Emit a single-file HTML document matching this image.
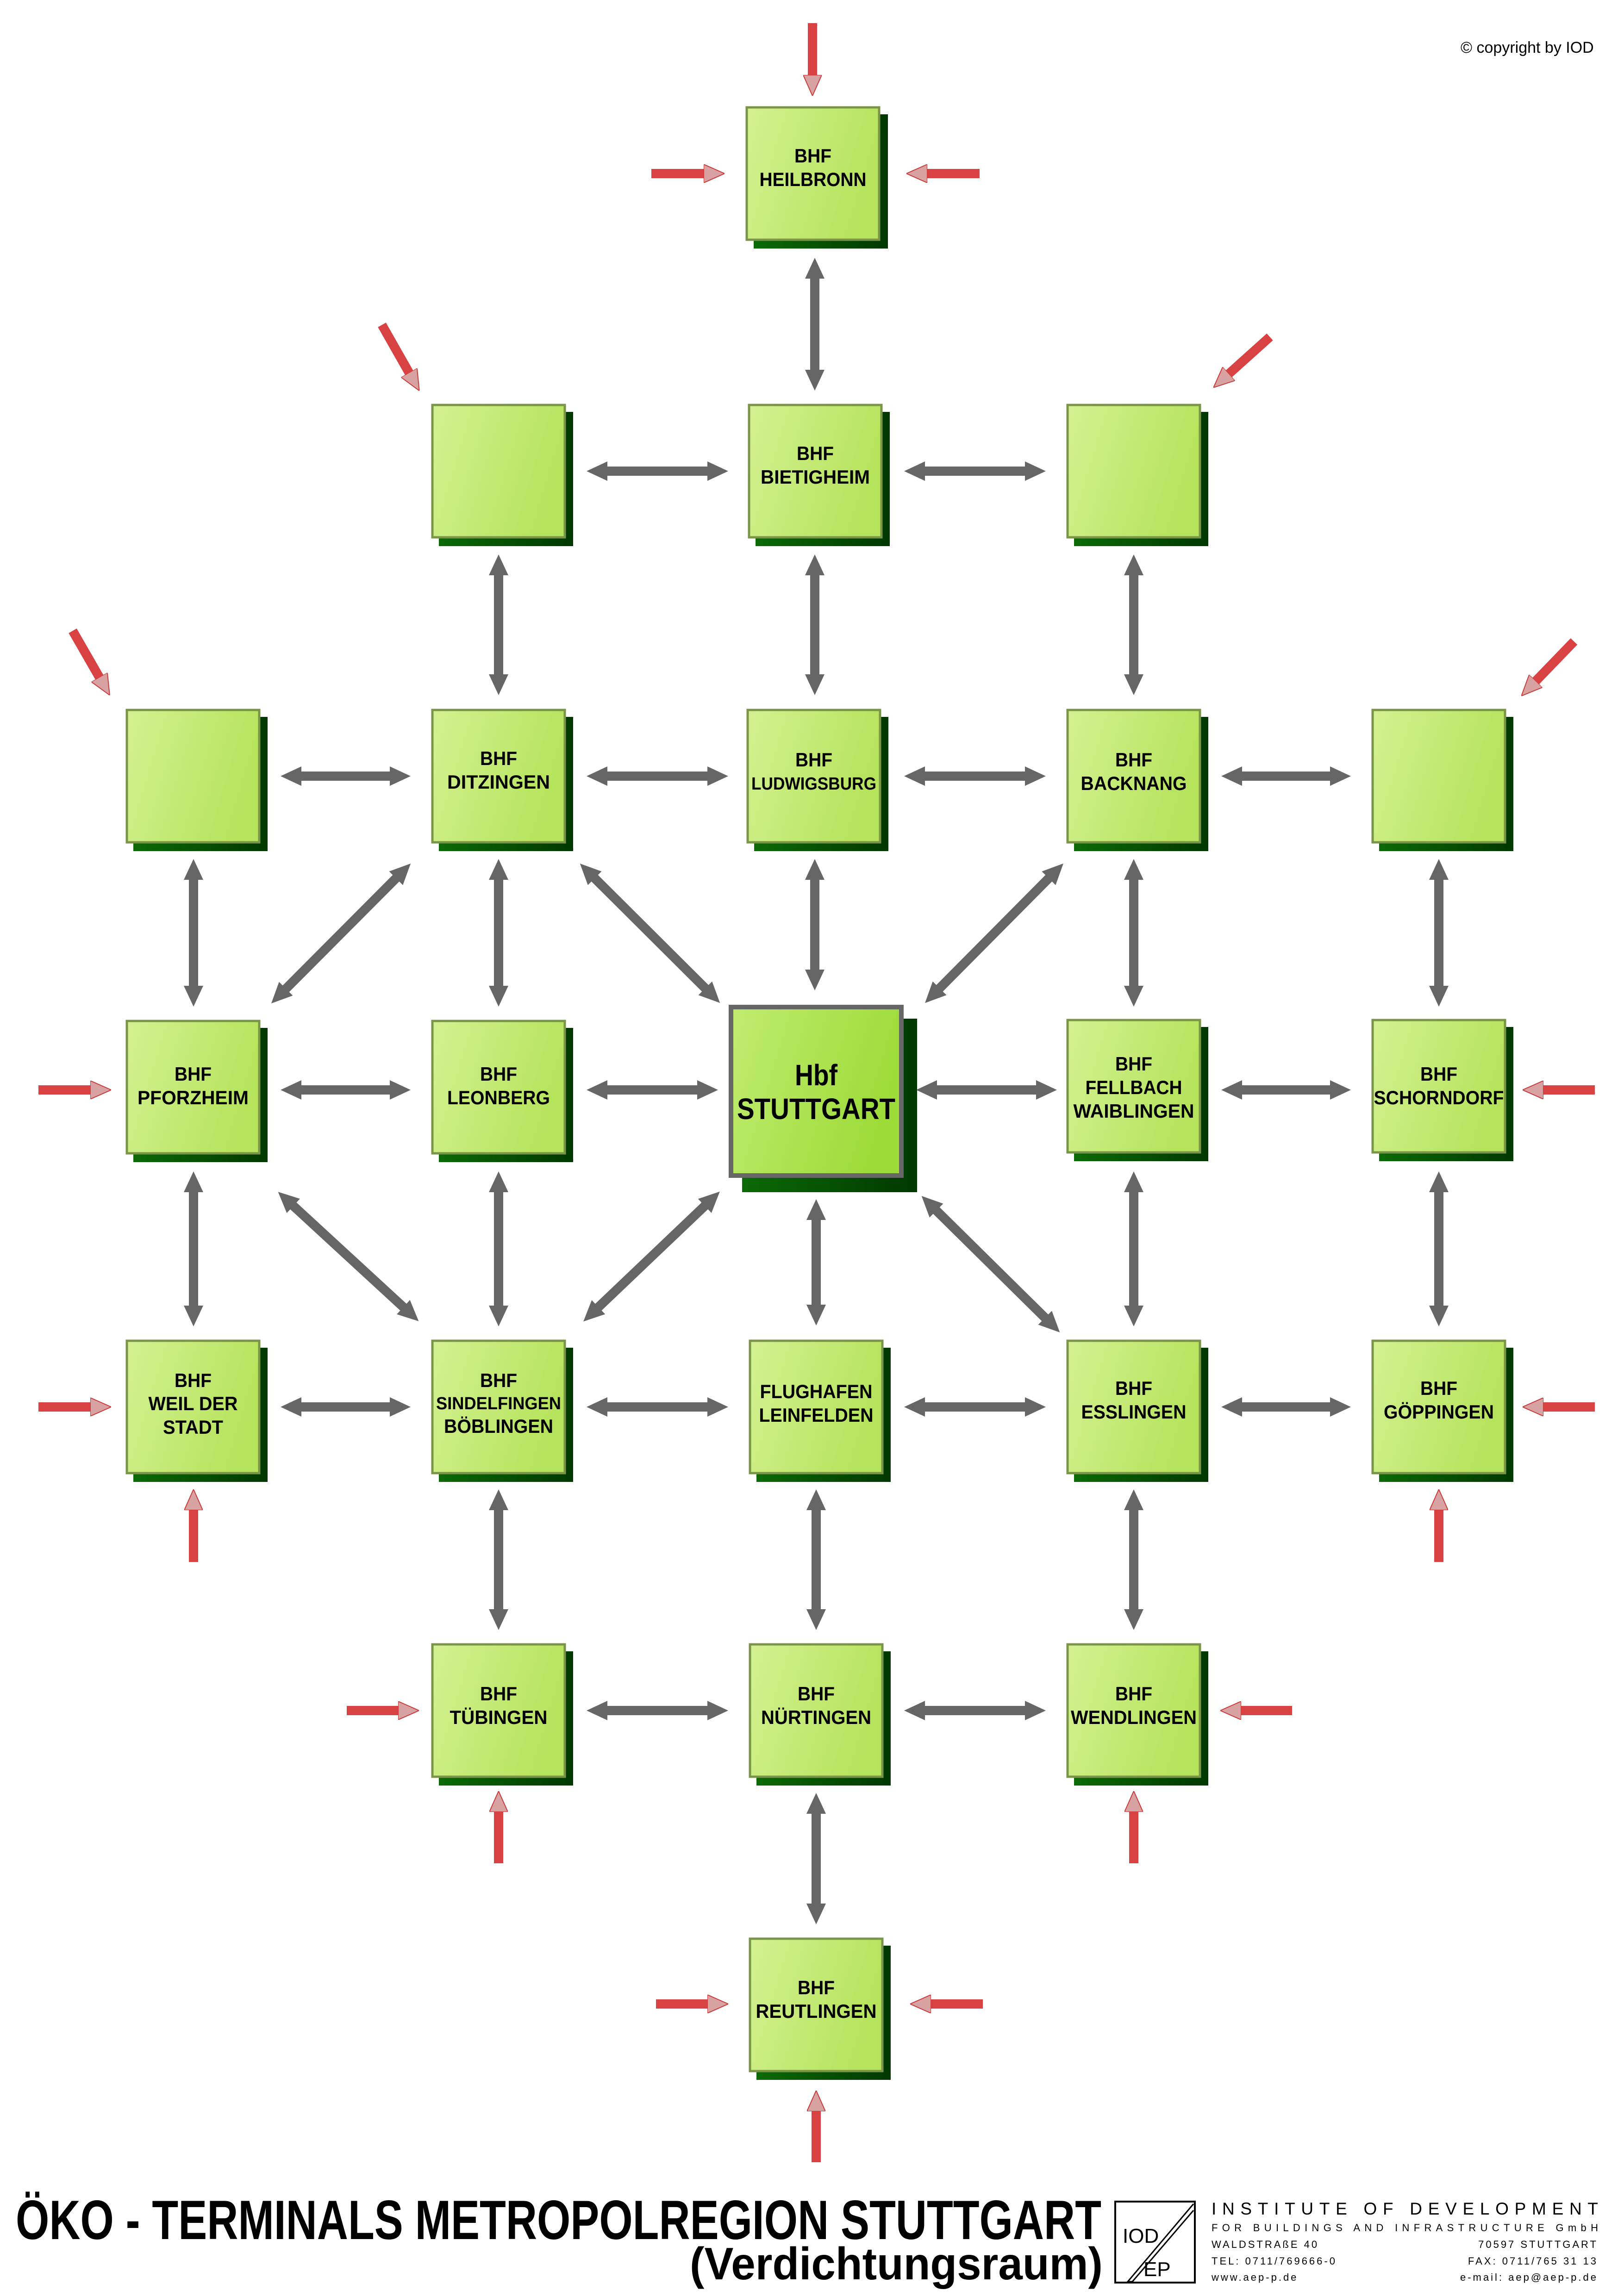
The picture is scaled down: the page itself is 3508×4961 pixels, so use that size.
<!DOCTYPE html>
<html><head><meta charset="utf-8">
<style>
html,body{margin:0;padding:0;background:#fff;}
svg{display:block;}
.n{font-family:"Liberation Sans Narrow","Liberation Sans",sans-serif;font-weight:bold;font-size:42px;fill:#000;text-anchor:middle;}
.ft{font-family:"Liberation Sans Narrow","Liberation Sans",sans-serif;fill:#000;}
</style></head>
<body>
<svg width="3508" height="4961" viewBox="0 0 3508 4961" xmlns="http://www.w3.org/2000/svg">
<defs>
<linearGradient id="gbox" x1="0" y1="0" x2="1" y2="0.3">
<stop offset="0" stop-color="#d3f191"/><stop offset="1" stop-color="#b6e35c"/></linearGradient>
<linearGradient id="gmain" x1="0" y1="0" x2="1" y2="0.3">
<stop offset="0" stop-color="#c0ec70"/><stop offset="1" stop-color="#9ddb38"/></linearGradient>
<linearGradient id="gsh" x1="0" y1="0" x2="1" y2="0">
<stop offset="0" stop-color="#0b6a06"/><stop offset="1" stop-color="#003800"/></linearGradient>
<marker id="mg" viewBox="0 0 45 42" markerUnits="userSpaceOnUse" markerWidth="45" markerHeight="42" refX="1" refY="21" orient="auto-start-reverse">
<path d="M0,0 L45,21 L0,42 z" fill="#666"/></marker>
<marker id="mr" viewBox="0 0 45 40" markerUnits="userSpaceOnUse" markerWidth="45" markerHeight="40" refX="1" refY="20" orient="auto">
<path d="M0,0 L45,20 L0,40 z" fill="#d9a2a2" stroke="#c83c3c" stroke-width="2"/></marker>
</defs>

<text x="3155" y="114" class="ft" style="font-family:'Liberation Sans',sans-serif;font-size:34px;">© copyright by IOD</text>

<g stroke="#666" stroke-width="20" marker-start="url(#mg)" marker-end="url(#mg)" fill="none">
<line x1="1311" y1="1018" x2="1529" y2="1018"/>
<line x1="1997" y1="1018" x2="2215" y2="1018"/>
<line x1="650" y1="1677" x2="843" y2="1677"/>
<line x1="1311" y1="1677" x2="1529" y2="1677"/>
<line x1="1997" y1="1677" x2="2215" y2="1677"/>
<line x1="2682" y1="1677" x2="2874" y2="1677"/>
<line x1="650" y1="2355" x2="843" y2="2355"/>
<line x1="1311" y1="2355" x2="1507" y2="2355"/>
<line x1="2023" y1="2355" x2="2239" y2="2355"/>
<line x1="2682" y1="2355" x2="2874" y2="2355"/>
<line x1="650" y1="3040" x2="843" y2="3040"/>
<line x1="1311" y1="3040" x2="1529" y2="3040"/>
<line x1="1997" y1="3040" x2="2215" y2="3040"/>
<line x1="2682" y1="3040" x2="2874" y2="3040"/>
<line x1="1311" y1="3696" x2="1529" y2="3696"/>
<line x1="1997" y1="3696" x2="2215" y2="3696"/>
<line x1="1760" y1="601" x2="1760" y2="800"/>
<line x1="1760" y1="1242" x2="1760" y2="1458"/>
<line x1="1760" y1="1900" x2="1760" y2="2096"/>
<line x1="1763" y1="2635" x2="1763" y2="2820"/>
<line x1="1763" y1="3262" x2="1763" y2="3478"/>
<line x1="1763" y1="3918" x2="1763" y2="4114"/>
<line x1="1077" y1="1242" x2="1077" y2="1458"/>
<line x1="1077" y1="1900" x2="1077" y2="2131"/>
<line x1="1077" y1="2575" x2="1077" y2="2822"/>
<line x1="1077" y1="3262" x2="1077" y2="3478"/>
<line x1="2449" y1="1242" x2="2449" y2="1458"/>
<line x1="2449" y1="1900" x2="2449" y2="2131"/>
<line x1="2449" y1="2575" x2="2449" y2="2822"/>
<line x1="2449" y1="3262" x2="2449" y2="3478"/>
<line x1="418" y1="1900" x2="418" y2="2131"/>
<line x1="418" y1="2575" x2="418" y2="2822"/>
<line x1="3108" y1="1900" x2="3108" y2="2131"/>
<line x1="3108" y1="2575" x2="3108" y2="2822"/>
<line x1="856" y1="1897" x2="617" y2="2137"/>
<line x1="1284" y1="1897" x2="1524" y2="2136"/>
<line x1="2266" y1="1897" x2="2029" y2="2136"/>
<line x1="633" y1="2605" x2="872" y2="2825"/>
<line x1="1523" y1="2605" x2="1292" y2="2825"/>
<line x1="2022" y1="2615" x2="2258" y2="2848"/>
</g>

<g stroke="#d94242" stroke-width="20" marker-end="url(#mr)" fill="none">
<line x1="1755" y1="50" x2="1755" y2="163"/>
<line x1="1407" y1="375" x2="1521" y2="375"/>
<line x1="2116" y1="375" x2="2002" y2="375"/>
<line x1="825" y1="702" x2="884" y2="806"/>
<line x1="2743" y1="728" x2="2654" y2="808"/>
<line x1="157" y1="1363" x2="215" y2="1464"/>
<line x1="3400" y1="1386" x2="3317" y2="1472"/>
<line x1="83" y1="2355" x2="196" y2="2355"/>
<line x1="3445" y1="2355" x2="3333" y2="2355"/>
<line x1="83" y1="3040" x2="196" y2="3040"/>
<line x1="418" y1="3375" x2="418" y2="3262"/>
<line x1="3445" y1="3040" x2="3333" y2="3040"/>
<line x1="3108" y1="3375" x2="3108" y2="3262"/>
<line x1="749" y1="3696" x2="861" y2="3696"/>
<line x1="1077" y1="4026" x2="1077" y2="3914"/>
<line x1="2791" y1="3696" x2="2680" y2="3696"/>
<line x1="2449" y1="4026" x2="2449" y2="3914"/>
<line x1="1417" y1="4330" x2="1529" y2="4330"/>
<line x1="2123" y1="4330" x2="2010" y2="4330"/>
<line x1="1763" y1="4672" x2="1763" y2="4561"/>
</g>

<g>
<rect x="1628" y="247" width="290" height="290" fill="url(#gsh)"/><rect x="1613" y="232" width="286" height="286" fill="url(#gbox)" stroke="#7a9448" stroke-width="5"/>
<rect x="948" y="890" width="290" height="290" fill="url(#gsh)"/><rect x="934" y="875" width="286" height="286" fill="url(#gbox)" stroke="#7a9448" stroke-width="5"/>
<rect x="1632" y="890" width="290" height="290" fill="url(#gsh)"/><rect x="1618" y="875" width="286" height="286" fill="url(#gbox)" stroke="#7a9448" stroke-width="5"/>
<rect x="2320" y="890" width="290" height="290" fill="url(#gsh)"/><rect x="2306" y="875" width="286" height="286" fill="url(#gbox)" stroke="#7a9448" stroke-width="5"/>
<rect x="288" y="1549" width="290" height="290" fill="url(#gsh)"/><rect x="274" y="1534" width="286" height="286" fill="url(#gbox)" stroke="#7a9448" stroke-width="5"/>
<rect x="948" y="1549" width="290" height="290" fill="url(#gsh)"/><rect x="934" y="1534" width="286" height="286" fill="url(#gbox)" stroke="#7a9448" stroke-width="5"/>
<rect x="1629" y="1549" width="290" height="290" fill="url(#gsh)"/><rect x="1615" y="1534" width="286" height="286" fill="url(#gbox)" stroke="#7a9448" stroke-width="5"/>
<rect x="2320" y="1549" width="290" height="290" fill="url(#gsh)"/><rect x="2306" y="1534" width="286" height="286" fill="url(#gbox)" stroke="#7a9448" stroke-width="5"/>
<rect x="2979" y="1549" width="290" height="290" fill="url(#gsh)"/><rect x="2965" y="1534" width="286" height="286" fill="url(#gbox)" stroke="#7a9448" stroke-width="5"/>
<rect x="288" y="2221" width="290" height="290" fill="url(#gsh)"/><rect x="274" y="2206" width="286" height="286" fill="url(#gbox)" stroke="#7a9448" stroke-width="5"/>
<rect x="948" y="2221" width="290" height="290" fill="url(#gsh)"/><rect x="934" y="2206" width="286" height="286" fill="url(#gbox)" stroke="#7a9448" stroke-width="5"/>
<rect x="1603" y="2201" width="378" height="375" fill="url(#gsh)"/><rect x="1579" y="2176" width="368" height="364" fill="url(#gmain)" stroke="#666" stroke-width="10"/>
<rect x="2320" y="2219" width="290" height="290" fill="url(#gsh)"/><rect x="2306" y="2204" width="286" height="286" fill="url(#gbox)" stroke="#7a9448" stroke-width="5"/>
<rect x="2979" y="2219" width="290" height="290" fill="url(#gsh)"/><rect x="2965" y="2204" width="286" height="286" fill="url(#gbox)" stroke="#7a9448" stroke-width="5"/>
<rect x="288" y="2912" width="290" height="290" fill="url(#gsh)"/><rect x="274" y="2897" width="286" height="286" fill="url(#gbox)" stroke="#7a9448" stroke-width="5"/>
<rect x="948" y="2912" width="290" height="290" fill="url(#gsh)"/><rect x="934" y="2897" width="286" height="286" fill="url(#gbox)" stroke="#7a9448" stroke-width="5"/>
<rect x="1634" y="2912" width="290" height="290" fill="url(#gsh)"/><rect x="1620" y="2897" width="286" height="286" fill="url(#gbox)" stroke="#7a9448" stroke-width="5"/>
<rect x="2320" y="2912" width="290" height="290" fill="url(#gsh)"/><rect x="2306" y="2897" width="286" height="286" fill="url(#gbox)" stroke="#7a9448" stroke-width="5"/>
<rect x="2979" y="2912" width="290" height="290" fill="url(#gsh)"/><rect x="2965" y="2897" width="286" height="286" fill="url(#gbox)" stroke="#7a9448" stroke-width="5"/>
<rect x="948" y="3568" width="290" height="290" fill="url(#gsh)"/><rect x="934" y="3553" width="286" height="286" fill="url(#gbox)" stroke="#7a9448" stroke-width="5"/>
<rect x="1634" y="3568" width="290" height="290" fill="url(#gsh)"/><rect x="1620" y="3553" width="286" height="286" fill="url(#gbox)" stroke="#7a9448" stroke-width="5"/>
<rect x="2320" y="3568" width="290" height="290" fill="url(#gsh)"/><rect x="2306" y="3553" width="286" height="286" fill="url(#gbox)" stroke="#7a9448" stroke-width="5"/>
<rect x="1634" y="4204" width="290" height="290" fill="url(#gsh)"/><rect x="1620" y="4189" width="286" height="286" fill="url(#gbox)" stroke="#7a9448" stroke-width="5"/>
</g>

<g class="n">
<text x="1756" y="351" textLength="80" lengthAdjust="spacingAndGlyphs">BHF</text><text x="1756" y="402" textLength="231" lengthAdjust="spacingAndGlyphs">HEILBRONN</text>
<text x="1761" y="994" textLength="80" lengthAdjust="spacingAndGlyphs">BHF</text><text x="1761" y="1045" textLength="236" lengthAdjust="spacingAndGlyphs">BIETIGHEIM</text>
<text x="1077" y="1653" textLength="80" lengthAdjust="spacingAndGlyphs">BHF</text><text x="1077" y="1704" textLength="222" lengthAdjust="spacingAndGlyphs">DITZINGEN</text>
<text x="1758" y="1656" textLength="80" lengthAdjust="spacingAndGlyphs">BHF</text><text x="1758" y="1706" style="font-size:38px" textLength="270" lengthAdjust="spacingAndGlyphs">LUDWIGSBURG</text>
<text x="2449" y="1656" textLength="80" lengthAdjust="spacingAndGlyphs">BHF</text><text x="2449" y="1707" textLength="229" lengthAdjust="spacingAndGlyphs">BACKNANG</text>
<text x="417" y="2335" textLength="80" lengthAdjust="spacingAndGlyphs">BHF</text><text x="417" y="2386" textLength="240" lengthAdjust="spacingAndGlyphs">PFORZHEIM</text>
<text x="1077" y="2335" textLength="80" lengthAdjust="spacingAndGlyphs">BHF</text><text x="1077" y="2386" textLength="222" lengthAdjust="spacingAndGlyphs">LEONBERG</text>
<text x="1763" y="2345" style="font-size:64px" textLength="92" lengthAdjust="spacingAndGlyphs">Hbf</text>
<text x="1763" y="2418" style="font-size:64px" textLength="342" lengthAdjust="spacingAndGlyphs">STUTTGART</text>
<text x="2449" y="2313" textLength="80" lengthAdjust="spacingAndGlyphs">BHF</text><text x="2449" y="2364" textLength="209" lengthAdjust="spacingAndGlyphs">FELLBACH</text><text x="2449" y="2415" textLength="261" lengthAdjust="spacingAndGlyphs">WAIBLINGEN</text>
<text x="3108" y="2335" textLength="80" lengthAdjust="spacingAndGlyphs">BHF</text><text x="3108" y="2386" textLength="281" lengthAdjust="spacingAndGlyphs">SCHORNDORF</text>
<text x="417" y="2997" textLength="80" lengthAdjust="spacingAndGlyphs">BHF</text><text x="417" y="3047" textLength="193" lengthAdjust="spacingAndGlyphs">WEIL DER</text><text x="417" y="3098" textLength="130" lengthAdjust="spacingAndGlyphs">STADT</text>
<text x="1077" y="2997" textLength="80" lengthAdjust="spacingAndGlyphs">BHF</text><text x="1077" y="3045" style="font-size:38px" textLength="270" lengthAdjust="spacingAndGlyphs">SINDELFINGEN</text><text x="1077" y="3096" textLength="236" lengthAdjust="spacingAndGlyphs">BÖBLINGEN</text>
<text x="1763" y="3021" textLength="243" lengthAdjust="spacingAndGlyphs">FLUGHAFEN</text>
<text x="1763" y="3072" textLength="247" lengthAdjust="spacingAndGlyphs">LEINFELDEN</text>
<text x="2449" y="3014" textLength="80" lengthAdjust="spacingAndGlyphs">BHF</text><text x="2449" y="3065" textLength="227" lengthAdjust="spacingAndGlyphs">ESSLINGEN</text>
<text x="3108" y="3014" textLength="80" lengthAdjust="spacingAndGlyphs">BHF</text><text x="3108" y="3065" textLength="238" lengthAdjust="spacingAndGlyphs">GÖPPINGEN</text>
<text x="1077" y="3674" textLength="80" lengthAdjust="spacingAndGlyphs">BHF</text><text x="1077" y="3725" textLength="211" lengthAdjust="spacingAndGlyphs">TÜBINGEN</text>
<text x="1763" y="3674" textLength="80" lengthAdjust="spacingAndGlyphs">BHF</text><text x="1763" y="3725" textLength="238" lengthAdjust="spacingAndGlyphs">NÜRTINGEN</text>
<text x="2449" y="3674" textLength="80" lengthAdjust="spacingAndGlyphs">BHF</text><text x="2449" y="3725" textLength="272" lengthAdjust="spacingAndGlyphs">WENDLINGEN</text>
<text x="1763" y="4309" textLength="80" lengthAdjust="spacingAndGlyphs">BHF</text><text x="1763" y="4360" textLength="261" lengthAdjust="spacingAndGlyphs">REUTLINGEN</text>
</g>

<text x="34" y="4838" class="ft" style="font-weight:bold;font-size:120px" textLength="2345" lengthAdjust="spacingAndGlyphs">ÖKO - TERMINALS METROPOLREGION STUTTGART</text>
<text x="2382" y="4925" class="ft" style="font-weight:bold;font-size:98px" text-anchor="end" textLength="892" lengthAdjust="spacingAndGlyphs">(Verdichtungsraum)</text>

<rect x="2409" y="4757" width="172" height="175" fill="none" stroke="#000" stroke-width="4"/>
<path d="M2578,4762 L2436,4930 L2446,4930 L2578,4776" fill="none" stroke="#000" stroke-width="3"/>
<text x="2425" y="4846" class="ft" style="font-family:'Liberation Sans',sans-serif;font-size:44px">IOD</text>
<text x="2470" y="4918" class="ft" style="font-family:'Liberation Sans',sans-serif;font-size:44px">EP</text>
<g class="ft" style="font-family:'Liberation Sans',sans-serif;">
<text x="2617" y="4785" style="font-size:37px" textLength="835" lengthAdjust="spacing">INSTITUTE OF DEVELOPMENT</text>
<text x="2617" y="4821" style="font-size:22px" textLength="835" lengthAdjust="spacing">FOR BUILDINGS AND INFRASTRUCTURE GmbH</text>
<text x="2617" y="4857" style="font-size:22px" letter-spacing="4">WALDSTRAßE 40</text>
<text x="3452" y="4857" style="font-size:22px" letter-spacing="4" text-anchor="end">70597 STUTTGART</text>
<text x="2617" y="4893" style="font-size:22px" letter-spacing="4">TEL: 0711/769666-0</text>
<text x="3452" y="4893" style="font-size:22px" letter-spacing="4" text-anchor="end">FAX: 0711/765 31 13</text>
<text x="2617" y="4928" style="font-size:22px" letter-spacing="4">www.aep-p.de</text>
<text x="3452" y="4928" style="font-size:22px" letter-spacing="4" text-anchor="end">e-mail:  aep@aep-p.de</text>
</g>
</svg>
</body></html>
